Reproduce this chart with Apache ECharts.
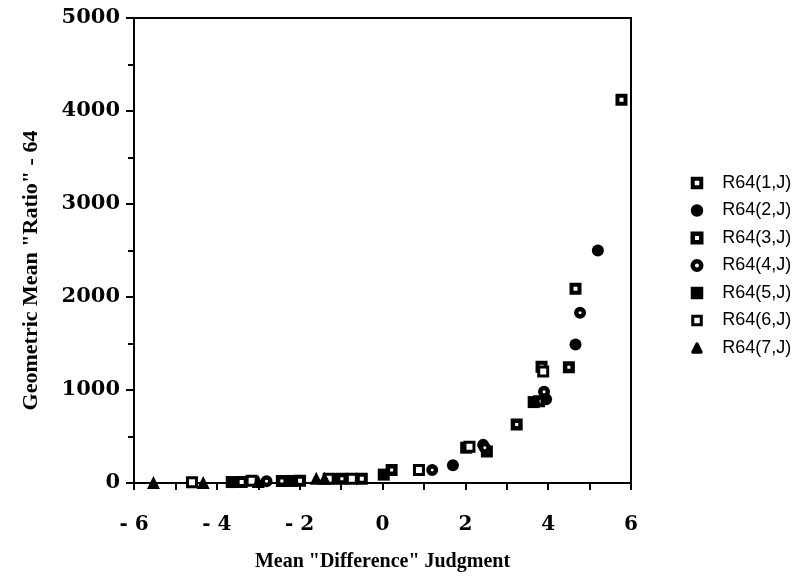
<!DOCTYPE html>
<html>
<head>
<meta charset="utf-8">
<script src="https://cdn.jsdelivr.net/npm/echarts@6/dist/echarts.min.js"></script>
<style>
  html, body { margin: 0; padding: 0; background: #fff; }
  #chart { width: 806px; height: 578px; }
</style>
</head>
<body>
<div id="chart"></div>
<script>
// [mean difference judgment, geometric mean ratio - 64]
const r64_1 = [[5.77, 4120], [4.66, 2090], [3.84, 1250], [-3.4, 12], [-1.99, 25], [-0.5, 45]]
const r64_2 = [[5.2, 2500], [4.66, 1490], [3.95, 900], [2.43, 410], [1.7, 190], [-1.15, 45]]
const r64_3 = [[4.5, 1245], [3.78, 880], [3.24, 630], [2.52, 340], [0.22, 140], [-2.43, 22], [-0.98, 45]]
const r64_4 = [[4.77, 1830], [3.9, 980], [2.47, 380], [1.2, 140], [-2.8, 20]]
const r64_5 = [[3.65, 870], [2.02, 380], [0.03, 90], [-3.64, 10], [-2.19, 22]]
const r64_6 = [[3.88, 1200], [2.1, 390], [0.88, 140], [-4.6, 8], [-3.16, 25], [-1.3, 45], [-0.74, 45]]
const r64_7 = [[-5.53, 5], [-4.33, 5], [-3.0, 15], [-1.6, 50], [-1.4, 50]]

const seriesNames = ['R64(1,J)', 'R64(2,J)', 'R64(3,J)', 'R64(4,J)', 'R64(5,J)', 'R64(6,J)', 'R64(7,J)']
const xTicks = [-6, 6, 1]
const xLabelled = [-6, -4, -2, 0, 2, 4, 6]
const yTicks = [0, 5000, 1000]

const serif = 'Liberation Serif'
const tickFont = 'DejaVu Serif'

// symbol look for each series: path size + white centre drawn with a thick black border
const looks = [
  { symbol: 'rect', size: 8, fill: '#fff', bw: 4, legendBw: 4 },
  { symbol: 'circle', size: 12, fill: '#000', bw: 0, legendBw: 4 },
  { symbol: 'rect', size: 7.5, fill: '#fff', bw: 4.5, legendBw: 4.5 },
  { symbol: 'circle', size: 7.5, fill: '#fff', bw: 4.5, legendBw: 4.5 },
  { symbol: 'rect', size: 12, fill: '#000', bw: 0, legendBw: 4 },
  { symbol: 'rect', size: 9, fill: '#fff', bw: 3, legendBw: 3 },
  { symbol: 'triangle', size: 13, fill: '#000', bw: 0, legendBw: 3 }
]
const allData = [r64_1, r64_2, r64_3, r64_4, r64_5, r64_6, r64_7]

const series = allData.map((d, i) => ({
  name: seriesNames[i],
  type: 'scatter',
  data: d,
  symbol: looks[i].symbol,
  symbolSize: looks[i].size,
  clip: false,
  silent: true,
  itemStyle: {
    color: looks[i].fill,
    opacity: 1,
    borderColor: '#000',
    borderWidth: looks[i].bw
  }
}))

const chart = echarts.init(document.getElementById('chart'))
chart.setOption({
  animation: false,
  backgroundColor: '#fff',
  grid: {
    left: 134,
    right: 175,
    top: 18,
    bottom: 95,
    show: true,
    borderColor: '#000',
    borderWidth: 2
  },
  legend: {
    orient: 'vertical',
    left: 685.5,
    top: 169,
    itemWidth: 8.5,
    itemHeight: 8.5,
    itemGap: 9.5,
    selectedMode: false,
    data: seriesNames.map((n, i) => ({
      name: n,
      itemStyle: {
        borderColor: '#000',
        borderWidth: looks[i].legendBw,
        borderJoin: looks[i].symbol === 'triangle' ? 'round' : 'miter'
      }
    })),
    textStyle: {
      fontFamily: 'Liberation Sans',
      fontSize: 18,
      lineHeight: 18,
      color: '#000',
      padding: [0, 0, 0, 16]
    }
  },
  xAxis: {
    type: 'value',
    min: xTicks[0],
    max: xTicks[1],
    interval: xTicks[2],
    name: 'Mean "Difference" Judgment',
    nameLocation: 'middle',
    nameGap: 69,
    nameTextStyle: { fontFamily: serif, fontWeight: 'bold', fontSize: 20, color: '#000' },
    axisLine: { show: true, onZero: false, lineStyle: { color: '#000', width: 2 } },
    axisTick: { show: true, inside: false, length: 7, lineStyle: { color: '#000', width: 2 } },
    axisLabel: {
      margin: 32,
      fontFamily: tickFont,
      fontWeight: 'bold',
      fontSize: 20,
      color: '#000',
      formatter: v => {
        if (xLabelled.indexOf(v) < 0) return ''
        return v < 0 ? '- ' + Math.abs(v) : String(v)
      }
    },
    splitLine: { show: false }
  },
  yAxis: {
    type: 'value',
    min: yTicks[0],
    max: yTicks[1],
    interval: yTicks[2],
    name: 'Geometric Mean "Ratio" - 64',
    nameLocation: 'middle',
    nameGap: 92,
    nameTextStyle: {
      fontFamily: serif, fontWeight: 'bold', fontSize: 22, color: '#000',
      padding: [0, 40, 0, 0]
    },
    axisLine: { show: true, onZero: false, lineStyle: { color: '#000', width: 2 } },
    axisTick: { show: true, inside: false, length: 8, lineStyle: { color: '#000', width: 2 } },
    minorTick: { show: true, splitNumber: 2, length: 6, lineStyle: { color: '#000', width: 2 } },
    axisLabel: {
      margin: 14,
      fontFamily: tickFont,
      fontWeight: 'bold',
      fontSize: 21,
      color: '#000',
      formatter: v => String(v)
    },
    splitLine: { show: false }
  },
  series: series
})
</script>
</body>
</html>
